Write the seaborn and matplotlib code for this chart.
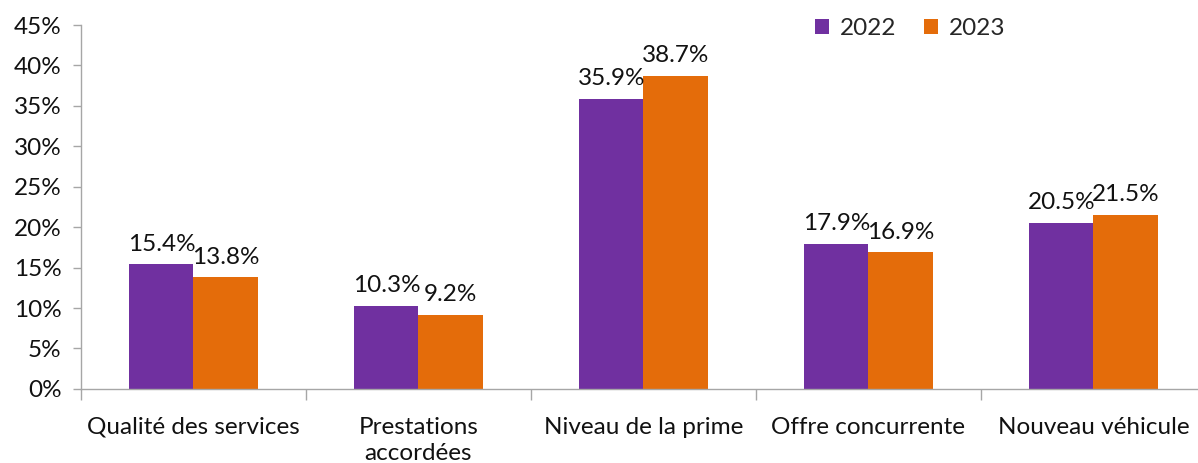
import matplotlib
matplotlib.use("Agg")
import matplotlib.pyplot as plt
import seaborn as sns
import pandas as pd
from matplotlib.ticker import FuncFormatter, FixedLocator

# --- Data ---
categories = ["Qualité des services", "Prestations\naccordées", "Niveau de la prime",
              "Offre concurrente", "Nouveau véhicule"]
values_2022 = [15.4, 10.3, 35.9, 17.9, 20.5]
values_2023 = [13.8, 9.2, 38.7, 16.9, 21.5]
years = ["2022", "2023"]
colors = ["#7030A0", "#E46C0A"]

df = pd.DataFrame({
    "categorie": categories * 2,
    "annee": [years[0]] * len(categories) + [years[1]] * len(categories),
    "valeur": values_2022 + values_2023,
})

sns.set_style("white")
plt.rcParams["font.family"] = ["Lato", "DejaVu Sans"]
FS = 17.5

fig = plt.figure(figsize=(11.98, 4.63), dpi=100)
ax = fig.add_axes([0.0676, 0.16, 0.939, 0.786])

sns.barplot(data=df, x="categorie", y="valeur", hue="annee", palette=colors,
            width=0.57, gap=0, saturation=1, ax=ax, linewidth=0)

for cont in ax.containers:
    ax.bar_label(cont, fmt="%.1f%%", padding=7, fontsize=FS, color="#111111")

ax.set_ylim(0, 45)
ax.set_xlim(-0.5, 4.5)
ax.set_yticks(range(0, 46, 5))
ax.yaxis.set_major_formatter(FuncFormatter(lambda v, p: f"{int(v)}%"))
ax.set_xlabel("")
ax.set_ylabel("")

ax.tick_params(axis="y", labelsize=FS, length=6, width=1, color="#A6A6A6",
               left=True, pad=8, labelcolor="#111111")
ax.tick_params(axis="x", which="major", length=0, labelsize=FS, pad=20, labelcolor="#111111")
for lbl in ax.get_xticklabels():
    lbl.set_linespacing(1.3)
ax.xaxis.set_minor_locator(FixedLocator([-0.5, 0.5, 1.5, 2.5, 3.5]))
ax.tick_params(axis="x", which="minor", length=8, width=1, color="#A6A6A6", bottom=True)

for s in ["top", "right"]:
    ax.spines[s].set_visible(False)
for s in ["left", "bottom"]:
    ax.spines[s].set_color("#A6A6A6")
    ax.spines[s].set_linewidth(1)

ax.legend(loc="upper right", bbox_to_anchor=(0.83, 1.045), borderaxespad=0, ncol=2,
          frameon=False, fontsize=FS, handlelength=0.55, handleheight=0.55,
          handletextpad=0.45, columnspacing=1.15, title=None)

fig.savefig("out.png", dpi=100)
